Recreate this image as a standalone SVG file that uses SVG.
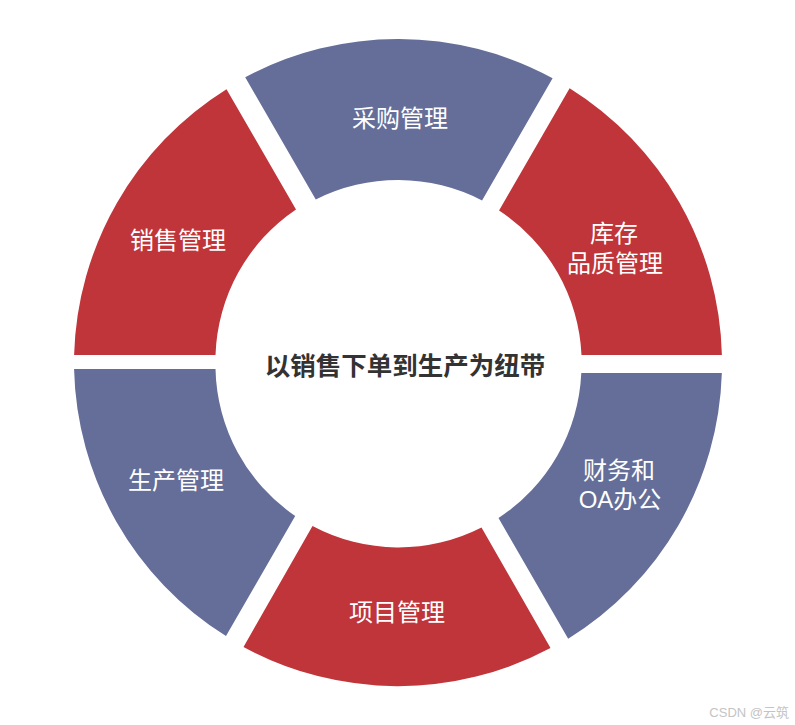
<svg xmlns="http://www.w3.org/2000/svg" width="795" height="725" viewBox="0 0 795 725">
<style>
.red{fill:#C0353A}
.blue{fill:#646E99}
.lbl{font-family:"Liberation Sans","Noto Sans CJK SC",sans-serif;font-size:24px;fill:#ffffff;text-anchor:middle;dominant-baseline:central}
.title{font-family:"Noto Sans CJK SC",sans-serif;font-size:25.5px;font-weight:bold;fill:#333333;text-anchor:middle;dominant-baseline:central}
.wm{font-family:"Liberation Sans","Noto Sans CJK SC",sans-serif;font-size:13px;fill:#c4c4c4;text-anchor:end;dominant-baseline:central}
</style>
<rect width="795" height="725" fill="#ffffff"/>
<g id="seg-caigou">
<path class="blue" d="M245.21,77.29 A324,324 0 0 1 552.60,78.27 L482.06,200.46 A183,183 0 0 0 315.77,199.51 Z"/>
<text class="lbl" x="400" y="118">采购管理</text>
</g>
<g id="seg-kucun">
<path class="red" d="M569.63,88.2 A324,324 0 0 1 721.9,355 L581.5,355 A183,183 0 0 0 499.06,210.44 Z"/>
<text class="lbl" x="614" y="233">库存</text>
<text class="lbl" x="615" y="263">品质管理</text>
</g>
<g id="seg-caiwu">
<path class="blue" d="M721.85,373 A324,324 0 0 1 568.18,638.69 L498.5,518 A183,183 0 0 0 581.3,373 Z"/>
<text class="lbl" x="619" y="470">财务和</text>
<text class="lbl" x="620" y="499">OA办公</text>
</g>
<g id="seg-xiangmu">
<path class="red" d="M550.5,648 A324,324 0 0 1 243.5,647 L312.5,526 A183,183 0 0 0 481.5,527.5 Z"/>
<text class="lbl" x="397" y="612">项目管理</text>
</g>
<g id="seg-shengchan">
<path class="blue" d="M226,636 A324,324 0 0 1 74.06,369 L215.5,369 A183,183 0 0 0 295.2,516 Z"/>
<text class="lbl" x="176" y="480">生产管理</text>
</g>
<g id="seg-xiaoshou">
<path class="red" d="M74.1,355 A324,324 0 0 1 226.5,89.2 L296,209.5 A183,183 0 0 0 215.5,355 Z"/>
<text class="lbl" x="178" y="240">销售管理</text>
</g>
<g id="center">
<text class="title" x="405" y="363">以销售下单到生产为纽带</text>
</g>
<g id="connectors"></g>
<text class="wm" x="789" y="712">CSDN @云筑</text>
</svg>
